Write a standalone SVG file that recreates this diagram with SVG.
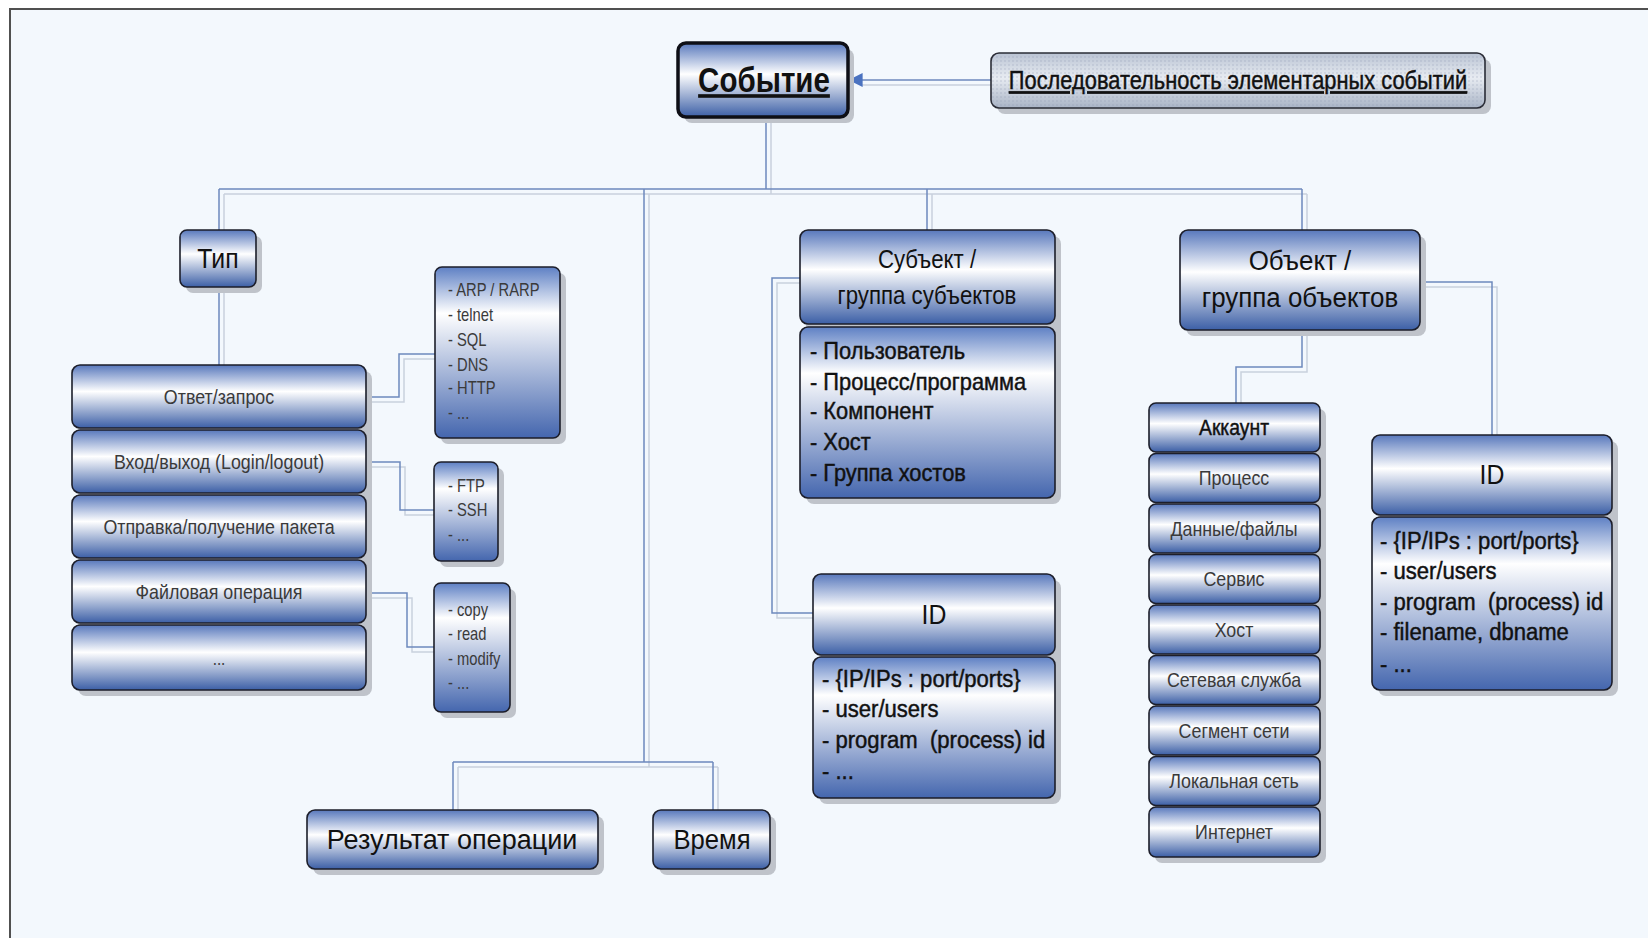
<svg xmlns="http://www.w3.org/2000/svg" width="1648" height="938" viewBox="0 0 1648 938">
<defs>
<linearGradient id="gh" x1="0" y1="0" x2="0" y2="1">
<stop offset="0" stop-color="#5878BC"/>
<stop offset="0.42" stop-color="#FFFFFF"/>
<stop offset="1" stop-color="#3C5FA6"/>
</linearGradient>
<linearGradient id="gl" x1="0" y1="0" x2="0" y2="1">
<stop offset="0" stop-color="#5E80C4"/>
<stop offset="0.27" stop-color="#FFFFFF"/>
<stop offset="1" stop-color="#4466AE"/>
</linearGradient>
<linearGradient id="gs" x1="0" y1="0" x2="0" y2="1">
<stop offset="0" stop-color="#B9C3D3"/>
<stop offset="0.45" stop-color="#E8ECF2"/>
<stop offset="1" stop-color="#A9B4C6"/>
</linearGradient>
<pattern id="dots" width="4" height="4" patternUnits="userSpaceOnUse">
<rect width="4" height="4" fill="none"/>
<circle cx="1" cy="1" r="0.8" fill="#8C98AE" opacity="0.45"/>
</pattern>
<marker id="arr" viewBox="0 0 10 10" refX="9" refY="5" markerWidth="14" markerHeight="14" markerUnits="userSpaceOnUse" orient="auto">
<path d="M0,0 L10,5 L0,10 z" fill="#4A72C0"/>
</marker>
<style>
.sh{fill:#BFC3CA;}
.bx{fill:url(#gh);stroke:#1C1E2A;stroke-width:1.6;}
.bl{fill:url(#gl);stroke:#1C1E2A;stroke-width:1.6;}
.c{fill:none;stroke:#6D89BD;stroke-width:1.5;}
.cs{fill:none;stroke:#C9D1DD;stroke-width:1.5;}
text{font-family:"Liberation Sans",Arial,sans-serif;fill:#111;}
.t{text-anchor:middle;}
.g{fill:#3A3A3A;}
.m{stroke:#111;stroke-width:0.45;}
</style>
</defs>
<rect width="1648" height="938" fill="#FFFFFF"/>
<rect x="10" y="9" width="1638" height="929" fill="#F3F8FD"/>
<path d="M10,938 V9 H1648" fill="none" stroke="#505050" stroke-width="2"/>

<g id="connectors">
<g transform="translate(5,5)">
<path class="cs" d="M991,80 H856"/>
<path class="cs" d="M766,117 V189"/>
<path class="cs" d="M219,189 H1302"/>
<path class="cs" d="M219,189 V230"/>
<path class="cs" d="M644,189 V762"/>
<path class="cs" d="M453,762 H713"/>
<path class="cs" d="M453,762 V810"/>
<path class="cs" d="M713,762 V810"/>
<path class="cs" d="M927,189 V230"/>
<path class="cs" d="M1302,189 V230"/>
<path class="cs" d="M219,287 V365"/>
<path class="cs" d="M366,397 H399 V354 H430"/>
<path class="cs" d="M366,462 H400 V510 H429"/>
<path class="cs" d="M366,593 H407 V647 H429"/>
<path class="cs" d="M800,278 H772 V613 H808"/>
<path class="cs" d="M1302,330 V367 H1236 V403"/>
<path class="cs" d="M1420,282 H1492 V435"/>
</g>
<path class="c" d="M991,80 H850" marker-end="url(#arr)"/>
<path class="c" d="M766,117 V189"/>
<path class="c" d="M219,189 H1302"/>
<path class="c" d="M219,189 V230"/>
<path class="c" d="M644,189 V762"/>
<path class="c" d="M453,762 H713"/>
<path class="c" d="M453,762 V810"/>
<path class="c" d="M713,762 V810"/>
<path class="c" d="M927,189 V230"/>
<path class="c" d="M1302,189 V230"/>
<path class="c" d="M219,287 V365"/>
<path class="c" d="M366,397 H399 V354 H435"/>
<path class="c" d="M366,462 H400 V510 H434"/>
<path class="c" d="M366,593 H407 V647 H434"/>
<path class="c" d="M800,278 H772 V613 H813"/>
<path class="c" d="M1302,330 V367 H1236 V403"/>
<path class="c" d="M1420,282 H1492 V435"/>
</g>

<g id="event">
<rect class="sh" x="684" y="49" width="170" height="74" rx="8"/>
<rect x="678" y="43" width="170" height="74" rx="8" fill="url(#gh)" stroke="#0E0F16" stroke-width="3.5"/>
<text class="t" transform="translate(764,92) scale(0.82,1)" font-size="36" font-weight="bold" text-decoration="underline">Событие</text>
</g>

<g id="sequence">
<rect class="sh" x="997" y="59" width="494" height="55" rx="8"/>
<rect x="991" y="53" width="494" height="55" rx="8" fill="url(#gs)" stroke="#2A2C36" stroke-width="1.6"/>
<rect x="992" y="54" width="492" height="53" rx="7" fill="url(#dots)"/>
<text class="t m" transform="translate(1238,89) scale(0.84,1)" font-size="26" text-decoration="underline">Последовательность элементарных событий</text>
</g>

<g id="type">
<rect class="sh" x="186" y="236" width="76" height="57" rx="7"/>
<rect class="bx" x="180" y="230" width="76" height="57" rx="7" stroke-width="2.2"/>
<text class="t" transform="translate(218,268) scale(0.92,1)" font-size="27">Тип</text>
</g>

<g id="type-list">
<rect class="sh" x="78" y="371" width="294" height="325" rx="8"/>
<rect class="bx" x="72" y="365" width="294" height="63" rx="8"/>
<text class="t g" transform="translate(219,404) scale(0.85,1)" font-size="21">Ответ/запрос</text>
<rect class="bx" x="72" y="430" width="294" height="63" rx="8"/>
<text class="t g" transform="translate(219,469) scale(0.85,1)" font-size="21">Вход/выход (Login/logout)</text>
<rect class="bx" x="72" y="495" width="294" height="63" rx="8"/>
<text class="t g" transform="translate(219,534) scale(0.85,1)" font-size="21">Отправка/получение пакета</text>
<rect class="bx" x="72" y="560" width="294" height="63" rx="8"/>
<text class="t g" transform="translate(219,599) scale(0.85,1)" font-size="21">Файловая операция</text>
<rect class="bx" x="72" y="625" width="294" height="65" rx="8"/>
<text class="t g" transform="translate(219,665) scale(0.85,1)" font-size="18">...</text>
</g>

<g id="protocols">
<rect class="sh" x="441" y="273" width="125" height="171" rx="7"/>
<rect class="bl" x="435" y="267" width="125" height="171" rx="7"/>
<text class="g" transform="translate(448,296) scale(0.82,1)" font-size="18">- ARP / RARP</text>
<text class="g" transform="translate(448,321) scale(0.82,1)" font-size="18">- telnet</text>
<text class="g" transform="translate(448,346) scale(0.82,1)" font-size="18">- SQL</text>
<text class="g" transform="translate(448,371) scale(0.82,1)" font-size="18">- DNS</text>
<text class="g" transform="translate(448,394) scale(0.82,1)" font-size="18">- HTTP</text>
<text class="g" transform="translate(448,419) scale(0.82,1)" font-size="18">- ...</text>
</g>

<g id="login-protocols">
<rect class="sh" x="440" y="468" width="64" height="99" rx="7"/>
<rect class="bl" x="434" y="462" width="64" height="99" rx="7"/>
<text class="g" transform="translate(448,492) scale(0.82,1)" font-size="18">- FTP</text>
<text class="g" transform="translate(448,516) scale(0.82,1)" font-size="18">- SSH</text>
<text class="g" transform="translate(448,541) scale(0.82,1)" font-size="18">- ...</text>
</g>

<g id="file-ops">
<rect class="sh" x="440" y="589" width="76" height="129" rx="7"/>
<rect class="bl" x="434" y="583" width="76" height="129" rx="7"/>
<text class="g" transform="translate(448,616) scale(0.82,1)" font-size="18">- copy</text>
<text class="g" transform="translate(448,640) scale(0.82,1)" font-size="18">- read</text>
<text class="g" transform="translate(448,665) scale(0.82,1)" font-size="18">- modify</text>
<text class="g" transform="translate(448,689) scale(0.82,1)" font-size="18">- ...</text>
</g>

<g id="subject">
<rect class="sh" x="806" y="236" width="255" height="268" rx="8"/>
<rect class="bx" x="800" y="230" width="255" height="94" rx="8" stroke-width="2"/>
<text class="t" transform="translate(927,268) scale(0.89,1)" font-size="25">Субъект /</text>
<text class="t" transform="translate(927,304) scale(0.89,1)" font-size="25">группа субъектов</text>
<rect class="bl" x="800" y="327" width="255" height="171" rx="8"/>
<text class="m" transform="translate(810,359) scale(0.95,1)" font-size="23">- Пользователь</text>
<text class="m" transform="translate(810,390) scale(0.95,1)" font-size="23">- Процесс/программа</text>
<text class="m" transform="translate(810,419) scale(0.95,1)" font-size="23">- Компонент</text>
<text class="m" transform="translate(810,450) scale(0.95,1)" font-size="23">- Хост</text>
<text class="m" transform="translate(810,481) scale(0.95,1)" font-size="23">- Группа хостов</text>
</g>

<g id="subject-id">
<rect class="sh" x="819" y="580" width="242" height="224" rx="8"/>
<rect class="bx" x="813" y="574" width="242" height="81" rx="8"/>
<text class="t" transform="translate(934,624) scale(0.92,1)" font-size="27">ID</text>
<rect class="bl" x="813" y="657" width="242" height="141" rx="8"/>
<text class="m" transform="translate(822,687) scale(0.96,1)" font-size="23">- {IP/IPs : port/ports}</text>
<text class="m" transform="translate(822,717) scale(0.96,1)" font-size="23">- user/users</text>
<text class="m" transform="translate(822,748) scale(0.96,1)" font-size="23" xml:space="preserve">- program  (process) id</text>
<text class="m" transform="translate(822,779) scale(0.96,1)" font-size="23">- ...</text>
</g>

<g id="object">
<rect class="sh" x="1186" y="236" width="240" height="100" rx="8"/>
<rect class="bx" x="1180" y="230" width="240" height="100" rx="8" stroke-width="2"/>
<text class="t" transform="translate(1300,270) scale(0.96,1)" font-size="27">Объект /</text>
<text class="t" transform="translate(1300,307) scale(0.96,1)" font-size="27">группа объектов</text>
</g>

<g id="object-kinds">
<rect class="sh" x="1155" y="409" width="171" height="454" rx="7"/>
<rect class="bx" x="1149" y="403" width="171" height="49" rx="7"/>
<text class="t m" transform="translate(1234,435) scale(0.88,1)" font-size="22">Аккаунт</text>
<rect class="bx" x="1149" y="453.5" width="171" height="49" rx="7"/>
<text class="t g" transform="translate(1234,485) scale(0.85,1)" font-size="21">Процесс</text>
<rect class="bx" x="1149" y="504" width="171" height="49" rx="7"/>
<text class="t g" transform="translate(1234,536) scale(0.85,1)" font-size="21">Данные/файлы</text>
<rect class="bx" x="1149" y="554.5" width="171" height="49" rx="7"/>
<text class="t g" transform="translate(1234,586) scale(0.85,1)" font-size="21">Сервис</text>
<rect class="bx" x="1149" y="605" width="171" height="49" rx="7"/>
<text class="t g" transform="translate(1234,637) scale(0.85,1)" font-size="21">Хост</text>
<rect class="bx" x="1149" y="655.5" width="171" height="49" rx="7"/>
<text class="t g" transform="translate(1234,687) scale(0.85,1)" font-size="21">Сетевая служба</text>
<rect class="bx" x="1149" y="706" width="171" height="49" rx="7"/>
<text class="t g" transform="translate(1234,738) scale(0.85,1)" font-size="21">Сегмент сети</text>
<rect class="bx" x="1149" y="756.5" width="171" height="49" rx="7"/>
<text class="t g" transform="translate(1234,788) scale(0.85,1)" font-size="21">Локальная сеть</text>
<rect class="bx" x="1149" y="807" width="171" height="50" rx="7"/>
<text class="t g" transform="translate(1234,839) scale(0.85,1)" font-size="21">Интернет</text>
</g>

<g id="object-id">
<rect class="sh" x="1378" y="441" width="240" height="255" rx="8"/>
<rect class="bx" x="1372" y="435" width="240" height="80" rx="8"/>
<text class="t" transform="translate(1492,484) scale(0.92,1)" font-size="27">ID</text>
<rect class="bl" x="1372" y="517" width="240" height="173" rx="8"/>
<text class="m" transform="translate(1380,549) scale(0.96,1)" font-size="23">- {IP/IPs : port/ports}</text>
<text class="m" transform="translate(1380,579) scale(0.96,1)" font-size="23">- user/users</text>
<text class="m" transform="translate(1380,610) scale(0.96,1)" font-size="23" xml:space="preserve">- program  (process) id</text>
<text class="m" transform="translate(1380,640) scale(0.96,1)" font-size="23">- filename, dbname</text>
<text class="m" transform="translate(1380,672) scale(0.96,1)" font-size="23">- ...</text>
</g>

<g id="result">
<rect class="sh" x="313" y="816" width="291" height="59" rx="8"/>
<rect class="bx" x="307" y="810" width="291" height="59" rx="8" stroke-width="2"/>
<text class="t" x="452" y="849" font-size="27">Результат операции</text>
</g>

<g id="time">
<rect class="sh" x="659" y="816" width="117" height="59" rx="8"/>
<rect class="bx" x="653" y="810" width="117" height="59" rx="8" stroke-width="2"/>
<text class="t" transform="translate(712,849) scale(0.95,1)" font-size="27">Время</text>
</g>
</svg>
